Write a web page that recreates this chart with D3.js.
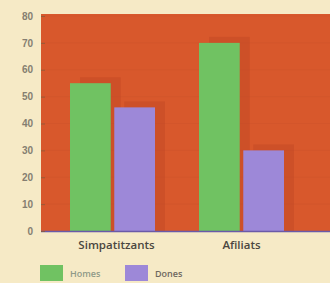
<!DOCTYPE html>
<html>
<head>
<meta charset="utf-8">
<script src="https://cdn.jsdelivr.net/npm/d3@7"></script>
<style>
  html, body { margin: 0; padding: 0; background: #f6eac6; }
  svg { display: block; font-family: "Open Sans", "DejaVu Sans", sans-serif; }
</style>
</head>
<body>
<div id="chart"></div>
<script>
const CATEGORIES = ['Simpatitzants', 'Afiliats'];
const SERIES = ['Homes', 'Dones'];
const HOMES = [55, 70];
const DONES = [46, 30];
const Y_TICKS = [0, 10, 20, 30, 40, 50, 60, 70, 80];

const COLORS = { Homes: '#70c262', Dones: '#9d88d8' };

const w = 330, h = 283;
const plot = { left: 41, right: 336, top: 16, bottom: 231 };

const svg = d3.select('#chart').append('svg')
  .attr('width', w).attr('height', h);

const y = d3.scaleLinear().domain([0, 80]).range([plot.bottom, plot.top]);
const x0 = d3.scaleBand().domain(CATEGORIES).range([48, 306]);
const x1 = d3.scaleBand().domain(SERIES).range([22, 107]).paddingInner(0.08);

// plot background
svg.append('rect')
  .attr('x', plot.left).attr('y', plot.top - 2)
  .attr('width', plot.right - plot.left).attr('height', plot.bottom - plot.top + 2)
  .attr('fill', '#d8582c');

// faint horizontal grid texture
svg.append('g').selectAll('line')
  .data(Y_TICKS.slice(1))
  .join('line')
  .attr('x1', plot.left).attr('x2', plot.right)
  .attr('y1', d => y(d)).attr('y2', d => y(d))
  .attr('stroke', '#c44f28').attr('stroke-width', 0.8).attr('opacity', 0.3);

const rows = CATEGORIES.map((c, i) => [
  { cat: c, s: 'Homes', v: HOMES[i] },
  { cat: c, s: 'Dones', v: DONES[i] },
]).flat();

// shadows
svg.append('g').selectAll('rect')
  .data(rows)
  .join('rect')
  .attr('x', d => x0(d.cat) + x1(d.s) + 10)
  .attr('y', d => y(d.v) - 6)
  .attr('width', x1.bandwidth())
  .attr('height', d => plot.bottom - y(d.v) + 6)
  .attr('fill', '#b94322').attr('opacity', 0.35);

// bars
svg.append('g').selectAll('rect')
  .data(rows)
  .join('rect')
  .attr('x', d => x0(d.cat) + x1(d.s))
  .attr('y', d => y(d.v))
  .attr('width', x1.bandwidth())
  .attr('height', d => plot.bottom - y(d.v))
  .attr('fill', d => COLORS[d.s]);

// baseline
svg.append('line')
  .attr('x1', plot.left).attr('x2', plot.right)
  .attr('y1', plot.bottom + 0.5).attr('y2', plot.bottom + 0.5)
  .attr('stroke', '#6a5aa8').attr('stroke-width', 1.5);

// y axis
const yAxis = svg.append('g')
  .attr('transform', `translate(${plot.left},0)`)
  .call(d3.axisLeft(y).tickValues(Y_TICKS).tickSize(-4).tickPadding(8));
yAxis.select('.domain').remove();
yAxis.selectAll('line').attr('stroke', '#8a5a3a').attr('stroke-width', 0.8);
yAxis.selectAll('text')
  .attr('font-size', '10px').attr('font-weight', 600).attr('fill', '#857e70');

// category labels
svg.append('g').selectAll('text')
  .data(CATEGORIES)
  .join('text')
  .attr('x', d => x0(d) + x0.bandwidth() / 2 + (d === 'Simpatitzants' ? 4 : 0))
  .attr('y', 249)
  .attr('text-anchor', 'middle')
  .attr('font-size', '11.5px')
  .attr('font-weight', 600)
  .attr('fill', '#4a4640')
  .text(d => d);

// legend
const legend = svg.append('g');
const legendX = [40, 125];
SERIES.forEach((s, i) => {
  legend.append('rect')
    .attr('x', legendX[i]).attr('y', 265)
    .attr('width', 23).attr('height', 16)
    .attr('fill', COLORS[s]);
  legend.append('text')
    .attr('x', legendX[i] + 30).attr('y', 277)
    .attr('font-size', '9px')
    .attr('font-weight', 600)
    .attr('fill', i === 0 ? '#8f9a88' : '#6e6860')
    .text(s);
});
</script>
</body>
</html>
